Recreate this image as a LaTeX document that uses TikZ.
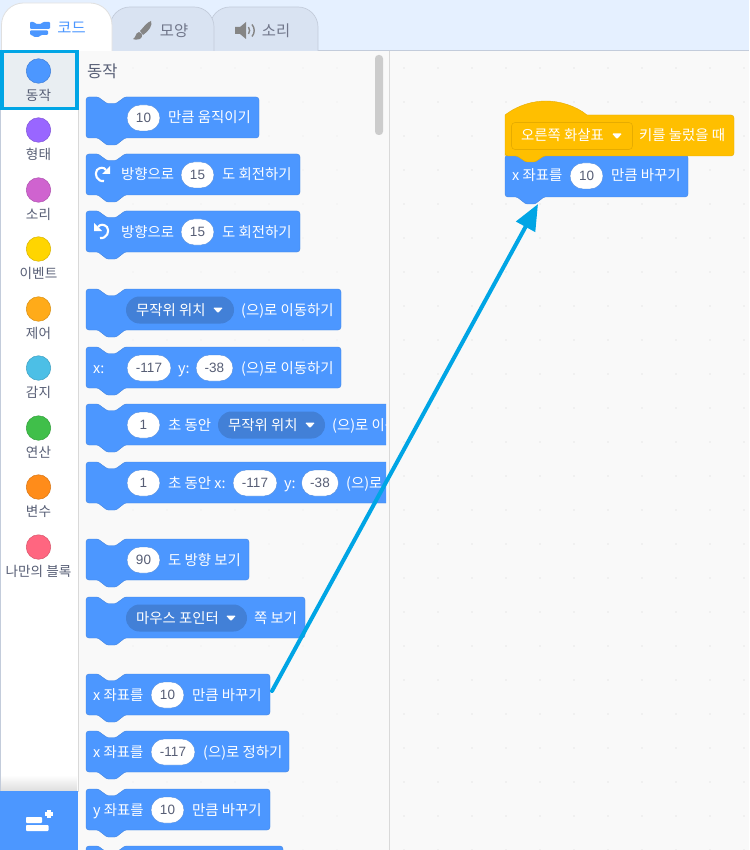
\documentclass[tikz,border=0pt]{standalone}
\usepackage{fontspec}
\setmainfont{Noto Sans CJK KR}
\newfontfamily\numfont{Liberation Sans}
\usetikzlibrary{arrows.meta,positioning}
\definecolor{Motion}{HTML}{4C97FF}
\definecolor{MotionDark}{HTML}{4280D7}
\definecolor{Hat}{HTML}{FFBF00}
\definecolor{HatDark}{HTML}{E6AC00}
\definecolor{Ink}{HTML}{575E75}
\definecolor{Pointer}{HTML}{00A5E5}
\definecolor{Pane}{HTML}{F9F9F9}
\definecolor{Topbar}{HTML}{E5F0FF}
\definecolor{TabOff}{HTML}{D9E3F2}
\definecolor{Rim}{HTML}{C3CCDB}
\definecolor{Picked}{HTML}{E9EEF2}

% block with a notch on top and a bump below
\newcommand{\stackblock}[6][Motion]{%
  \path[fill=#1, draw=#1!88!black, rounded corners=3pt]
    (#3,#4) [rounded corners=1.2pt] -- ({#3+12},#4) -- ({#3+21},{#4+6.5}) -- ({#3+30},{#4+6.5}) -- ({#3+39},#4)
    [rounded corners=3pt] -- (#5,#4) -- (#5,{#4+#6}) [rounded corners=1.2pt] -- ({#3+39},{#4+#6}) -- ({#3+30},{#4+#6+7}) -- ({#3+21},{#4+#6+7})
    -- ({#3+12},{#4+#6}) [rounded corners=3pt] -- (#3,{#4+#6}) -- cycle;
  \coordinate (#2) at ({#3+33},{#4+#6+7});
  \coordinate (#2east) at (#5,{#4+17});
}
\newcommand{\dropmark}[2]{%
  \fill[white, rounded corners=1pt] ({#1-5},{#2-2.5}) -- ({#1+5},{#2-2.5}) -- (#1,{#2+3}) -- cycle;
}
\newcommand{\turnicon}[3]{%
  \begin{scope}[shift={(#1,#2)}, xscale=#3]
    \draw[white, line width=2.1pt] (2,6) .. controls (-5,7) and (-8,-1) .. (-5,-5) .. controls (-2,-8) and (2,-8) .. (4,-5);
    \fill[white] (8,-9) -- (8,-1) -- (0,-1) -- cycle;
  \end{scope}
}

\begin{document}
\begin{tikzpicture}[
  x=1pt, y=-1pt,
  blocktext/.style={text=white, anchor=west, inner sep=0pt, font=\fontsize{14.4}{14}\selectfont, text height=11pt, text depth=1pt},
  numfield/.style={fill=white, draw=MotionDark, line width=0.3pt, rounded corners=13pt, minimum height=26pt, inner sep=0pt, text=Ink, font=\numfont\fontsize{13.5}{14}\selectfont},
  dropfield/.style={fill=MotionDark, rounded corners=13.5pt, minimum height=27pt, inner sep=0pt},
  catlabel/.style={text=Ink, inner sep=0pt, font=\fontsize{13.6}{14}\selectfont},
  tablabel/.style={inner sep=0pt, font=\fontsize{15.4}{16}\selectfont},
  tabshape/.style={fill=TabOff, draw=Rim, line width=0.7pt, rounded corners=20pt},
  griddot/.style={fill=black!9, inner sep=0pt, minimum size=1.6pt, shape=circle}
]
\useasboundingbox (0,0) rectangle (749,850);

% Fond
\fill[Topbar] (0,0) rectangle (749,51);
\fill[Pane] (78,51) rectangle (749,850);
\fill[white] (0,51) rectangle (78,850);
\draw[Rim, line width=0.8pt] (78,50.5) -- (749,50.5);
\draw[black!15, line width=1pt] (389.5,51) -- (389.5,850);
\draw[black!15, line width=1pt] (78,51) -- (78,792);
\draw[Rim, line width=1pt] (0.5,51) -- (0.5,792);

% Points de la grille
\foreach \gx in {404,438,...,749}
  \foreach \gy in {68,102,...,850}
    \node[griddot] at (\gx,\gy) {};
\foreach \gx in {133,167,...,370}
  \foreach \gy in {68,102,...,850}
    \node[griddot, fill=black!5] at (\gx,\gy) {};

% Onglets
\path[tabshape] (210,51) -- (210,7) -- (318,7) -- (318,51);
\path[tabshape] (110,51) -- (110,7) -- (214,7) -- (214,51);
\path[fill=white, draw=black!12, line width=0.8pt, rounded corners=22pt] (1.5,51) -- (1.5,3) -- (112,3) -- (112,51);
\fill[Motion, rounded corners=1pt] (30,22) -- (34,22) -- (36,24) -- (41,24) -- (43,22) -- (50,22) -- (50,29) -- (30,29) -- cycle;
\fill[Motion, rounded corners=1pt] (30,30.5) -- (48,30.5) -- (48,35) -- (41,35) -- (39,37) -- (34,37) -- (32,35) -- (30,35) -- cycle;
\node[tablabel, text=Motion] (tabcode) at (71.5,28) {코드};
\fill[black!48] (151,21) .. controls (153,25) and (149,31) .. (143,35) -- (140,31) .. controls (143,28) and (147,22) .. (151,21) -- cycle;
\fill[black!48] (139,32) .. controls (143,33) and (143,37) .. (140,39) .. controls (137,40) and (134,40) .. (133,39) .. controls (136,38) and (135,33) .. (139,32) -- cycle;
\node[tablabel, text=Ink!85] (tablook) at (174,31) {모양};
\fill[black!48] (235,27) -- (240,27) -- (246,22) -- (246,39) -- (240,34) -- (235,34) -- cycle;
\draw[black!48, line width=1.4pt] (248.5,27) .. controls (250,29) and (250,32) .. (248.5,34);
\draw[black!48, line width=1.4pt] (252,24.5) .. controls (255,28) and (255,33) .. (252,36.5);
\node[tablabel, text=Ink!85] (tabsound) at (276,31) {소리};

% Catégories
\draw[Pointer, line width=3.5pt, fill=Picked] (1.75,51.5) rectangle (77,108.5);
\foreach \i/\catname/\catcolor/\caty in {
  1/동작/4C97FF/71, 2/형태/9966FF/130, 3/소리/CF63CF/190,
  4/이벤트/FFD500/249, 5/제어/FFAB19/309, 6/감지/4CBFE6/368,
  7/연산/40BF4A/428, 8/변수/FF8C1A/487, 9/나만의 블록/FF6680/547}{
  \definecolor{thiscat}{HTML}{\catcolor}
  \node[circle, fill=thiscat, draw=thiscat!85!black, line width=0.5pt, minimum size=24.5pt, inner sep=0pt] (cat\i) at (38.5,\caty) {};
  \node[catlabel, below=24.5pt of cat\i.center, anchor=center] (catname\i) {\catname};
}

% Bouton d'extensions
\shade[top color=white, bottom color=black!14] (1,775) rectangle (77,792);
\fill[Motion] (0,791) rectangle (78,850);
\fill[white, rounded corners=0.8pt] (26,817) -- (42,817) -- (42,823) -- (26,823) -- cycle;
\fill[white, rounded corners=0.8pt] (26,825) -- (48.5,825) -- (48.5,831) -- (26,831) -- cycle;
\fill[white] (47,810) rectangle (50.5,817.5);
\fill[white] (45,812.2) rectangle (52.5,815.7);

% Palette
\node[inner sep=0pt, text=Ink, font=\fontsize{16.5}{17}\selectfont, anchor=west] (palettetitle) at (87,71) {동작};
\fill[black!20, rounded corners=3.5pt] (375,55) rectangle (383,135);

\begin{scope}
\clip (79,51) rectangle (386,850);

\stackblock{moveblock}{86}{97}{259}{41}
\node[numfield, minimum width=33pt] (movefield) at (143.5,118) {10};
\node[blocktext] (movetext) at (168,118) {만큼 움직이기};

\stackblock{turnright}{86}{154}{300}{41}
\turnicon{102}{175}{1}
\node[blocktext] (turnrighta) at (121,175) {방향으로};
\node[numfield, minimum width=33pt] (turnrightfield) at (197.5,175) {15};
\node[blocktext] (turnrightb) at (222,175) {도 회전하기};

\stackblock{turnleft}{86}{211}{300}{41}
\turnicon{102}{232}{-1}
\node[blocktext] (turnlefta) at (121,232) {방향으로};
\node[numfield, minimum width=33pt] (turnleftfield) at (197.5,232) {15};
\node[blocktext] (turnleftb) at (222,232) {도 회전하기};

\stackblock{gorandom}{86}{289}{341}{41}
\node[dropfield, minimum width=108pt] (gorandomdrop) at (180,310) {};
\node[blocktext] (gorandoma) at (136,310) {무작위 위치};
\dropmark{218}{310}
\node[blocktext] (gorandomb) at (241,310) {(으)로 이동하기};

\stackblock{goxy}{86}{347}{341}{41}
\node[blocktext] (goxyx) at (93,368) {x:};
\node[numfield, minimum width=44pt] (goxyfieldx) at (149,368) {-117};
\node[blocktext] (goxyy) at (178,368) {y:};
\node[numfield, minimum width=37pt] (goxyfieldy) at (214.5,368) {-38};
\node[blocktext] (goxytext) at (241,368) {(으)로 이동하기};

\stackblock{glidedrop}{86}{404}{400}{41}
\node[numfield, minimum width=33pt] (glidedropfield) at (143.5,425) {1};
\node[blocktext] (glidedropa) at (168,425) {초 동안};
\node[dropfield, minimum width=107pt] (glidedropmenu) at (271.5,425) {};
\node[blocktext] (glidedropb) at (228,425) {무작위 위치};
\dropmark{310}{425}
\node[blocktext] (glidedropc) at (332,425) {(으)로 이동하기};

\stackblock{glidexy}{86}{462}{400}{41}
\node[numfield, minimum width=33pt] (glidexyfield) at (143.5,483) {1};
\node[blocktext] (glidexya) at (168,483) {초 동안 x:};
\node[numfield, minimum width=44pt] (glidexyfieldx) at (255,483) {-117};
\node[blocktext] (glidexyy) at (284,483) {y:};
\node[numfield, minimum width=37pt] (glidexyfieldy) at (320,483) {-38};
\node[blocktext] (glidexyb) at (346,483) {(으)로 이동하기};

\stackblock{pointdir}{86}{539}{249}{41}
\node[numfield, minimum width=33pt] (pointdirfield) at (143.5,560) {90};
\node[blocktext] (pointdirtext) at (168,560) {도 방향 보기};

\stackblock{pointmouse}{86}{597}{305}{41}
\node[dropfield, minimum width=121pt] (pointmousedrop) at (186.5,618) {};
\node[blocktext] (pointmousea) at (136,618) {마우스 포인터};
\dropmark{231}{618}
\node[blocktext] (pointmouseb) at (254,618) {쪽 보기};

\stackblock{changex}{86}{674}{270}{41}
\node[blocktext] (changexa) at (93,695) {x 좌표를};
\node[numfield, minimum width=33pt] (changexfield) at (167.5,695) {10};
\node[blocktext] (changexb) at (192,695) {만큼 바꾸기};

\stackblock{setx}{86}{731}{289}{41}
\node[blocktext] (setxa) at (93,752) {x 좌표를};
\node[numfield, minimum width=44pt] (setxfield) at (173,752) {-117};
\node[blocktext] (setxb) at (203,752) {(으)로 정하기};

\stackblock{changey}{86}{789}{270}{41}
\node[blocktext] (changeya) at (93,810) {y 좌표를};
\node[numfield, minimum width=33pt] (changeyfield) at (167.5,810) {10};
\node[blocktext] (changeyb) at (192,810) {만큼 바꾸기};

\stackblock{sety}{86}{846}{283}{41}
\end{scope}

% Script
\stackblock{scriptblock}{505}{155}{688}{42}
\node[blocktext] (scripta) at (512,176) {x 좌표를};
\node[numfield, minimum width=33pt] (scriptfield) at (586.5,176) {10};
\node[blocktext] (scriptb) at (611,176) {만큼 바꾸기};

\path[fill=Hat, draw=HatDark] (505,153) -- (505,115)
  .. controls (518,105) and (533,101) .. (546,101) .. controls (560,101) and (576,106) .. (587,115)
  [rounded corners=3pt] -- (734,115) -- (734,156) [rounded corners=1.2pt] -- (544,156) -- (535,162) -- (526,162) -- (517,156) [rounded corners=3pt] -- (505,156) -- cycle;
\node[fill=Hat, draw=HatDark, line width=0.6pt, rounded corners=3.5pt, minimum width=121pt, minimum height=27pt, inner sep=0pt] (keydrop) at (572,136) {};
\node[blocktext] (keya) at (521,136) {오른쪽 화살표};
\dropmark{617}{136}
\node[blocktext] (keyb) at (639,136) {키를 눌렀을 때};

% Flèche
\draw[-{Triangle[length=26pt,width=21pt]}, Pointer, line width=4pt, line cap=round] ([xshift=2pt]changexeast) -- (scriptblock);
\end{tikzpicture}
\end{document}
